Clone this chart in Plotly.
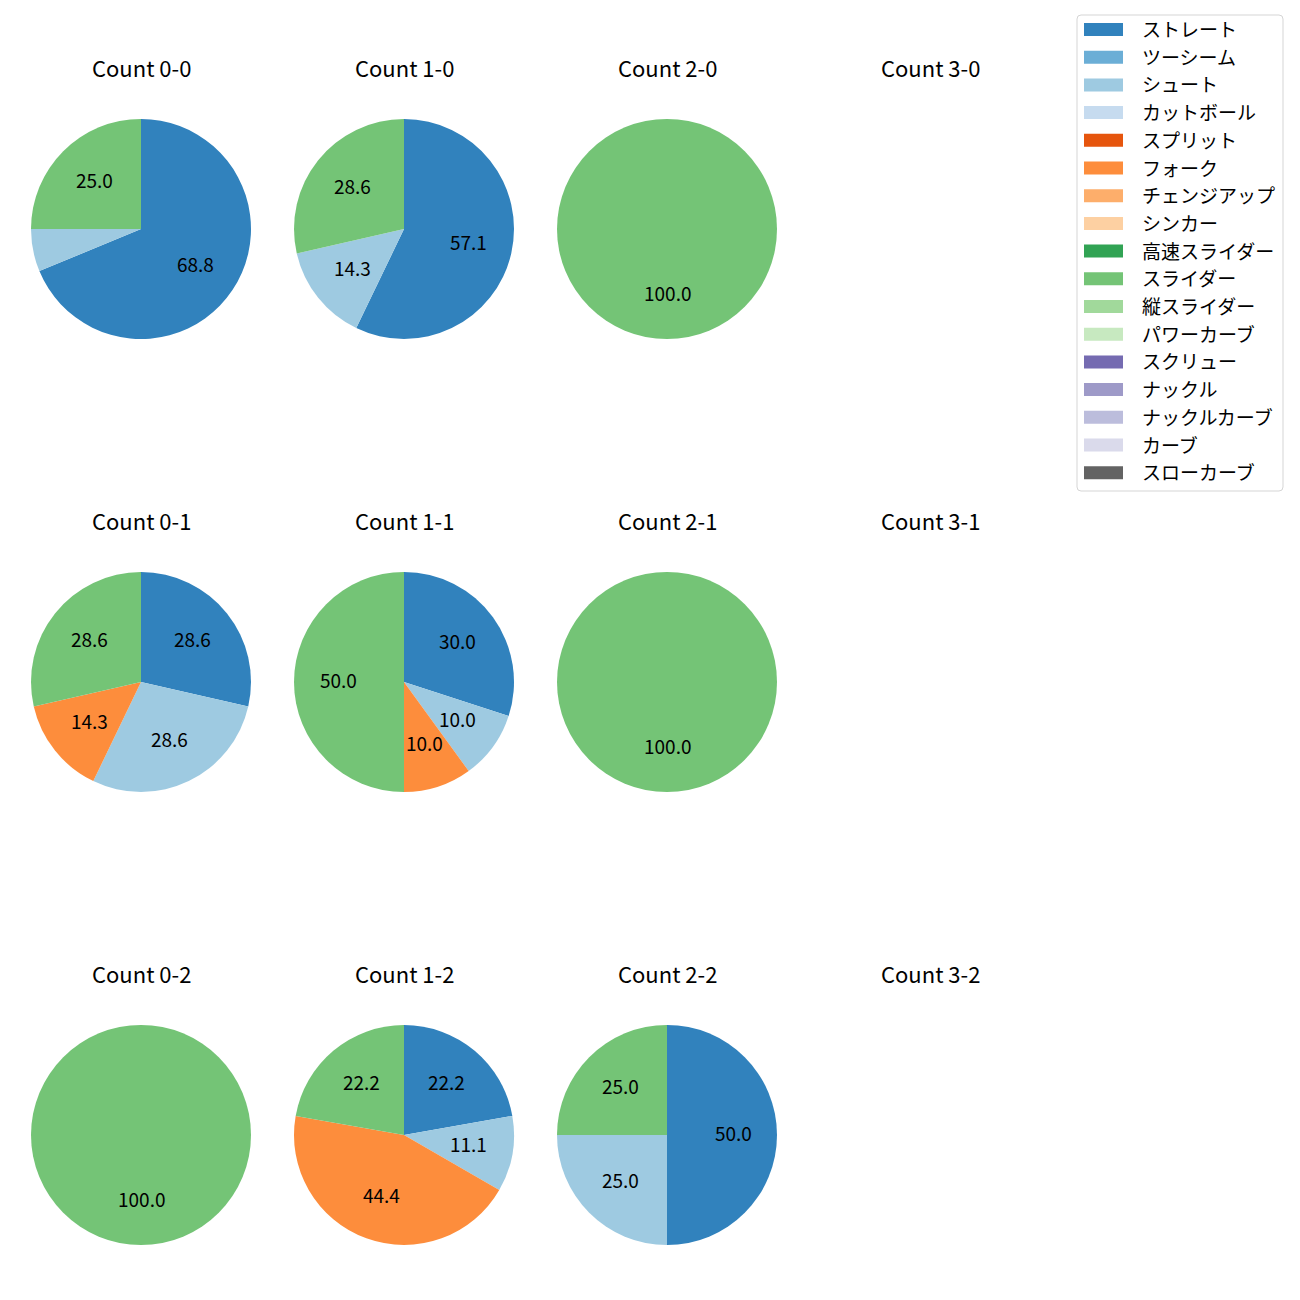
import math
import plotly.graph_objects as go

W = H = 1300
OFF = 8  # page body margin offset
TXT_DY = 2.5  # vertical nudge for annotation text

pitch_types = ["ストレート", "ツーシーム", "シュート", "カットボール", "スプリット", "フォーク",
               "チェンジアップ", "シンカー", "高速スライダー", "スライダー", "縦スライダー",
               "パワーカーブ", "スクリュー", "ナックル", "ナックルカーブ", "カーブ", "スローカーブ"]
colors = ["#3182bd", "#6baed6", "#9ecae1", "#c6dbef", "#e6550d", "#fd8d3c", "#fdae6b", "#fdd0a2",
          "#31a354", "#74c476", "#a1d99b", "#c7e9c0", "#756bb1", "#9e9ac8", "#bcbddc", "#dadaeb",
          "#636363"]

count_titles = ["Count 0-0", "Count 1-0", "Count 2-0", "Count 3-0",
                "Count 0-1", "Count 1-1", "Count 2-1", "Count 3-1",
                "Count 0-2", "Count 1-2", "Count 2-2", "Count 3-2"]
count_0_0 = {"ストレート": 11, "シュート": 1, "スライダー": 4}
count_1_0 = {"ストレート": 4, "シュート": 1, "スライダー": 2}
count_2_0 = {"スライダー": 1}
count_3_0 = {}
count_0_1 = {"ストレート": 2, "シュート": 2, "フォーク": 1, "スライダー": 2}
count_1_1 = {"ストレート": 3, "シュート": 1, "フォーク": 1, "スライダー": 5}
count_2_1 = {"スライダー": 1}
count_3_1 = {}
count_0_2 = {"スライダー": 1}
count_1_2 = {"ストレート": 2, "シュート": 1, "フォーク": 4, "スライダー": 2}
count_2_2 = {"ストレート": 2, "シュート": 1, "スライダー": 1}
count_3_2 = {}
count_data = [count_0_0, count_1_0, count_2_0, count_3_0,
              count_0_1, count_1_1, count_2_1, count_3_1,
              count_0_2, count_1_2, count_2_2, count_3_2]

color_map = dict(zip(pitch_types, colors))
FONT = "Noto Sans CJK JP"

col_cx = [141 - OFF, 404 - OFF, 667 - OFF, 930 - OFF]
row_cy = [229 - OFF, 682 - OFF, 1135 - OFF]
R = 110

fig = go.Figure()
annotations = []
shapes = []

for i, (title, data) in enumerate(zip(count_titles, count_data)):
    r, c = divmod(i, 4)
    cx, cy = col_cx[c], row_cy[r]
    annotations.append(dict(text=title, x=cx / W, y=1 - (cy - 160 - TXT_DY) / H, xref="paper", yref="paper",
                            showarrow=False, font=dict(family=FONT, size=22, color="black"),
                            xanchor="center", yanchor="middle"))
    labels = [p for p in pitch_types if p in data]
    values = [data[p] for p in labels]
    if not values:
        continue
    fig.add_trace(go.Pie(
        labels=labels, values=values, sort=False, direction="clockwise", rotation=0,
        marker=dict(colors=[color_map[p] for p in labels], line=dict(width=0)),
        textinfo="none", showlegend=False,
        domain=dict(x=[(cx - R) / W, (cx + R) / W], y=[1 - (cy + R) / H, 1 - (cy - R) / H]),
    ))
    total = sum(values)
    cum = 0
    for v in values:
        pct = 100 * v / total
        mid = (cum + v / 2) / total * 2 * math.pi
        cum += v
        if pct < 9.95:
            continue
        px = cx + 0.6 * R * math.sin(mid)
        py = cy - 0.6 * R * math.cos(mid) - TXT_DY
        annotations.append(dict(text=f"{pct:.1f}", x=px / W, y=1 - py / H, xref="paper", yref="paper",
                                showarrow=False, font=dict(family=FONT, size=19, color="black"),
                                xanchor="center", yanchor="middle"))

# legend
lx0, lx1, ly0, ly1 = 1077 - OFF, 1283 - OFF, 15 - OFF, 491 - OFF
rad = 4
path = (f"M {lx0+rad},{ly0} L {lx1-rad},{ly0} Q {lx1},{ly0} {lx1},{ly0+rad} "
        f"L {lx1},{ly1-rad} Q {lx1},{ly1} {lx1-rad},{ly1} L {lx0+rad},{ly1} "
        f"Q {lx0},{ly1} {lx0},{ly1-rad} L {lx0},{ly0+rad} Q {lx0},{ly0} {lx0+rad},{ly0} Z")
shapes.append(dict(type="path", path=path, xref="x", yref="y",
                   line=dict(color="#d5d5d5", width=1), fillcolor="rgba(255,255,255,0.8)"))
row0, dy = 29.5 - OFF, 27.7
for k, (p, col) in enumerate(zip(pitch_types, colors)):
    yc = row0 + k * dy
    shapes.append(dict(type="rect", xref="x", yref="y", x0=1084 - OFF, x1=1123 - OFF,
                       y0=yc - 6.5, y1=yc + 6.5, fillcolor=col, line=dict(width=0)))
    annotations.append(dict(text=p, x=1140 - OFF, y=yc - 1, xref="x", yref="y", showarrow=False,
                            xanchor="left", yanchor="middle",
                            font=dict(family=FONT, size=19, color="black")))

fig.update_layout(
    width=W, height=H, margin=dict(l=0, r=0, t=0, b=0),
    paper_bgcolor="white", plot_bgcolor="rgba(0,0,0,0)",
    xaxis=dict(range=[0, W], visible=False, fixedrange=True),
    yaxis=dict(range=[H, 0], visible=False, fixedrange=True),
    annotations=annotations, shapes=shapes, showlegend=False,
)
fig.write_html("out.html")
